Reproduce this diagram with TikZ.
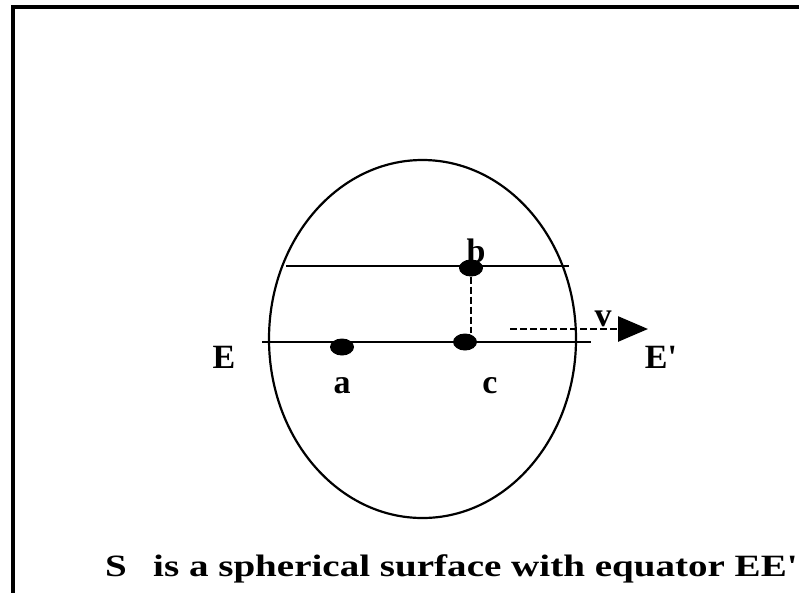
\documentclass[tikz,border=0pt]{standalone}
\usepackage{fontspec}
\setmainfont{Liberation Serif}
\newfontfamily\lblfont{Liberation Serif}
\newfontfamily\capfont[FakeStretch=1.26]{Liberation Serif}
\usetikzlibrary{arrows.meta,shapes.geometric}

\begin{document}
\begin{tikzpicture}[x=1pt,y=-1pt,
    lbl/.style={font=\lblfont\bfseries\fontsize{34}{34}\selectfont, inner sep=0pt},
    caption/.style={font=\capfont\bfseries\fontsize{31}{31}\selectfont, inner sep=0pt},
    dot/.style={ellipse, fill=black, inner sep=0pt, minimum width=24pt, minimum height=17pt},
    dashline/.style={line width=2.6pt, dash pattern=on 7pt off 3pt}
  ]
    \useasboundingbox (0,0) rectangle (799,592);
    \clip (0,0) rectangle (799,592);
    % frame
    \draw[line width=4pt] (13,7) rectangle (830,640);
    % sphere
    \draw[line width=2.2pt] (422.5,339) ellipse [x radius=153.5, y radius=179];
    \draw[line width=2.8pt] (286,266) -- (569,266);
    \draw[line width=2.8pt] (262,342) -- (591,342);
    % points
    \node[dot] (a) at (342,347) {};
    \node[dot] (b) at (471,268) {};
    \node[dot] (c) at (465,342) {};
    \draw[dashline] (b.south) -- (b.south |- c.north);
    % velocity
    \coordinate (vstart) at (510,329);
    \coordinate (vend) at (648,329);
    \draw[dashline, -{Triangle[length=30pt,width=25pt]}] (vstart) -- (vend);
    % labels
    \node[lbl, anchor=base] (labA) at (342,393) {a};
    \node[lbl, anchor=base] (labB) at (476,262) {b};
    \node[lbl, anchor=base] (labC) at (490,393) {c};
    \node[lbl, anchor=base] (labV) at (603,326) {v};
    \node[lbl, anchor=base] (labE) at (224,368) {E};
    \node[lbl, anchor=base] (labEp) at (661,368) {E'};
    \node[caption, anchor=base west] (capS) at (105,576) {S};
    \node[caption, anchor=base west] (cap) at (153,576)
      {is a spherical surface with equator EE'};
\end{tikzpicture}
\end{document}
